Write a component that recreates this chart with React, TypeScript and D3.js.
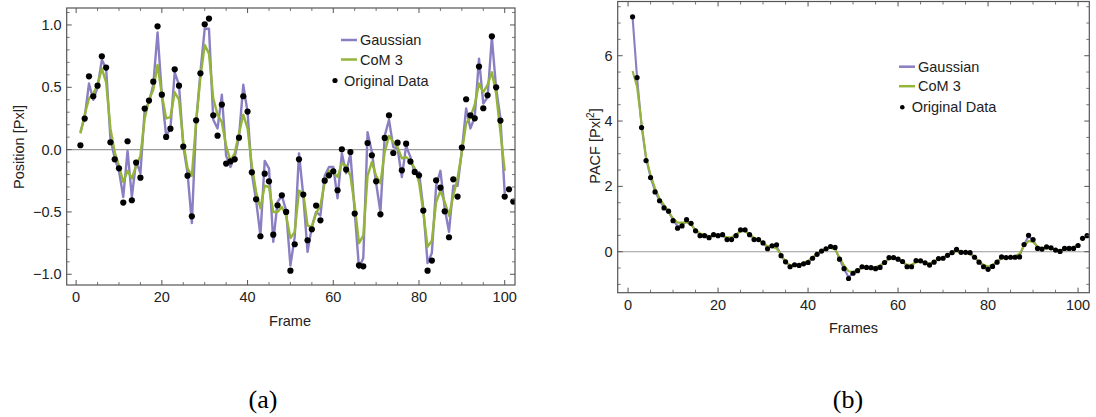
import React from "react";
import * as d3 from "d3";

const framesPts = d3.range(1, 103);
const framesLine = d3.range(1, 101);

const posData = [0.035,0.249,0.588,0.428,0.513,0.749,0.658,0.059,-0.078,-0.150,-0.425,0.067,-0.406,-0.104,-0.225,0.329,0.393,0.545,0.989,0.441,0.102,0.168,0.644,0.513,0.024,-0.209,-0.535,0.235,0.612,1.005,1.051,0.275,0.112,0.361,-0.112,-0.094,-0.078,0.096,0.428,0.305,-0.182,-0.398,-0.695,-0.193,-0.254,-0.682,-0.447,-0.366,-0.5,-0.971,-0.759,-0.078,-0.361,-0.727,-0.639,-0.449,-0.567,-0.249,-0.206,-0.174,-0.326,0.003,-0.160,-0.019,-0.513,-0.928,-0.936,0.053,-0.045,-0.254,-0.519,0.094,0.275,-0.027,0.056,-0.166,0.048,-0.096,-0.179,-0.206,-0.489,-0.971,-0.890,-0.246,-0.305,-0.495,-0.703,-0.238,-0.377,0.016,0.404,0.275,0.251,0.666,0.332,0.436,0.909,0.5,0.233,-0.377,-0.318,-0.417];

const posGauss = [0.14,0.26,0.53,0.40,0.50,0.72,0.65,0.09,-0.07,-0.17,-0.38,-0.01,-0.38,-0.09,-0.19,0.32,0.38,0.52,0.94,0.44,0.11,0.17,0.62,0.52,0.03,-0.19,-0.59,0.22,0.62,0.97,0.97,0.24,0.17,0.44,-0.05,-0.14,-0.06,0.10,0.52,0.30,-0.19,-0.41,-0.69,-0.09,-0.15,-0.74,-0.42,-0.37,-0.49,-0.93,-0.70,-0.03,-0.37,-0.82,-0.62,-0.50,-0.53,-0.21,-0.14,-0.14,-0.39,-0.03,-0.19,-0.03,-0.50,-0.95,-0.87,0.14,-0.02,-0.27,-0.50,0.11,0.24,0.02,0.01,-0.22,0.03,-0.06,-0.19,-0.18,-0.47,-0.91,-0.83,-0.29,-0.17,-0.47,-0.66,-0.29,-0.29,-0.01,0.33,0.17,0.26,0.73,0.37,0.42,0.90,0.49,0.25,-0.35];

const posCoM = [0.13,0.28,0.41,0.45,0.52,0.65,0.54,0.17,-0.02,-0.13,-0.26,-0.17,-0.23,-0.13,-0.05,0.25,0.40,0.48,0.68,0.44,0.25,0.26,0.46,0.40,0.06,-0.15,-0.21,0.22,0.58,0.84,0.77,0.41,0.28,0.22,0.03,-0.09,-0.03,0.13,0.28,0.17,-0.13,-0.34,-0.47,-0.29,-0.30,-0.50,-0.50,-0.46,-0.53,-0.71,-0.66,-0.33,-0.35,-0.61,-0.62,-0.51,-0.45,-0.26,-0.17,-0.18,-0.22,-0.11,-0.13,-0.21,-0.45,-0.75,-0.69,-0.21,-0.10,-0.21,-0.27,-0.02,0.11,0.06,0.02,-0.07,-0.06,-0.09,-0.15,-0.26,-0.50,-0.78,-0.73,-0.42,-0.33,-0.42,-0.53,-0.37,-0.23,-0.02,0.21,0.26,0.36,0.53,0.46,0.52,0.62,0.45,0.14,-0.17];

const pacfData = [7.19,5.33,3.80,2.79,2.27,1.83,1.56,1.34,1.24,0.95,0.72,0.79,0.98,0.87,0.64,0.49,0.49,0.43,0.52,0.49,0.52,0.37,0.37,0.49,0.67,0.67,0.52,0.37,0.37,0.27,0.09,0.18,0.21,-0.12,-0.31,-0.46,-0.40,-0.42,-0.37,-0.33,-0.20,-0.08,0.02,0.09,0.16,0.13,-0.23,-0.52,-0.82,-0.66,-0.58,-0.46,-0.48,-0.49,-0.52,-0.48,-0.33,-0.18,-0.18,-0.23,-0.30,-0.46,-0.46,-0.27,-0.28,-0.34,-0.41,-0.32,-0.21,-0.20,-0.11,-0.03,0.07,-0.02,-0.02,-0.03,-0.17,-0.32,-0.46,-0.54,-0.45,-0.32,-0.16,-0.18,-0.17,-0.17,-0.16,0.22,0.50,0.37,0.10,0.08,0.15,0.12,0.05,0.01,0.10,0.10,0.10,0.19,0.41,0.49];

const pacfGauss = [7.19,5.33,3.85,2.85,2.28,1.85,1.56,1.36,1.22,0.97,0.78,0.82,0.93,0.85,0.65,0.52,0.49,0.46,0.50,0.49,0.50,0.40,0.39,0.50,0.65,0.65,0.52,0.40,0.36,0.27,0.12,0.17,0.18,-0.11,-0.32,-0.44,-0.40,-0.41,-0.36,-0.32,-0.20,-0.08,0.02,0.09,0.15,0.12,-0.24,-0.52,-0.78,-0.65,-0.57,-0.47,-0.48,-0.49,-0.50,-0.46,-0.33,-0.20,-0.19,-0.23,-0.31,-0.44,-0.44,-0.29,-0.28,-0.34,-0.39,-0.31,-0.22,-0.19,-0.11,-0.03,0.05,-0.01,-0.02,-0.04,-0.17,-0.32,-0.45,-0.52,-0.44,-0.31,-0.18,-0.18,-0.17,-0.17,-0.14,0.22,0.47,0.36,0.12,0.09,0.13,0.11,0.05,0.02,0.09,0.10,0.11,0.20];

const pacfCoM = [5.53,5.05,3.93,2.90,2.35,1.94,1.63,1.43,1.22,1.02,0.89,0.89,0.90,0.82,0.66,0.56,0.51,0.48,0.49,0.49,0.48,0.44,0.44,0.53,0.63,0.63,0.53,0.43,0.36,0.26,0.17,0.15,0.10,-0.10,-0.31,-0.41,-0.43,-0.41,-0.34,-0.28,-0.17,-0.07,0.03,0.09,0.12,0.07,-0.18,-0.42,-0.60,-0.62,-0.55,-0.50,-0.48,-0.48,-0.47,-0.42,-0.32,-0.23,-0.20,-0.24,-0.32,-0.40,-0.40,-0.32,-0.29,-0.33,-0.36,-0.31,-0.23,-0.18,-0.11,-0.04,0.01,-0.01,-0.04,-0.08,-0.17,-0.30,-0.40,-0.45,-0.40,-0.30,-0.21,-0.18,-0.17,-0.14,-0.06,0.18,0.33,0.30,0.16,0.10,0.11,0.10,0.06,0.04,0.07,0.10,0.14,0.22];

const xTickVals = [0, 20, 40, 60, 80, 100];
const posTickVals = [-1.0, -0.5, 0.0, 0.5, 1.0];
const pacfTickVals = [0, 2, 4, 6];

const GAUSS = "#8a7fc2";
const COM = "#93b53a";
const FONT = "'Liberation Sans', Arial, Helvetica, sans-serif";
const FRAME = "#555";

type PanelProps = {
  x0: number; x1: number; y0: number; y1: number;
  xDomain: [number, number]; yDomain: [number, number];
  pts: number[]; gauss: number[]; com: number[];
  yTicks: number[]; yMinorStep: number; yFmt: (v: number) => string;
  lineW: number; dotR: number;
};

function Panel(p: PanelProps) {
  const x = d3.scaleLinear().domain(p.xDomain).range([p.x0, p.x1]);
  const y = d3.scaleLinear().domain(p.yDomain).range([p.y1, p.y0]);
  const line = d3.line<number>().x((_, i) => x(framesLine[i])).y((d) => y(d));
  const xMinor = d3.range(0, 101, 5).filter((v) => v % 20 !== 0);
  const yMinorAll = d3.range(Math.ceil(p.yDomain[0] / p.yMinorStep), Math.floor(p.yDomain[1] / p.yMinorStep) + 1).map((k) => +(k * p.yMinorStep).toFixed(4));
  const yMinor = yMinorAll.filter((v) => !p.yTicks.some((t) => Math.abs(t - v) < 1e-6));
  const clipId = `clip${Math.round(p.x0)}`;
  const MJ = 5, MN = 3;
  return (
    <g>
      <defs>
        <clipPath id={clipId}>
          <rect x={p.x0} y={p.y0} width={p.x1 - p.x0} height={p.y1 - p.y0} />
        </clipPath>
      </defs>
      <line x1={p.x0} x2={p.x1} y1={y(0)} y2={y(0)} stroke="#9a9a9a" strokeWidth={1.1} />
      <g clipPath={`url(#${clipId})`}>
        <path d={line(p.gauss) || ""} fill="none" stroke={GAUSS} strokeWidth={p.lineW} strokeLinejoin="round" />
        <path d={line(p.com) || ""} fill="none" stroke={COM} strokeWidth={p.lineW} strokeLinejoin="round" />
        {p.pts.map((v, i) => (
          <circle key={i} cx={x(framesPts[i])} cy={y(v)} r={p.dotR} fill="#000" />
        ))}
      </g>
      {xTickVals.map((t) => (
        <g key={"xt" + t}>
          <line x1={x(t)} x2={x(t)} y1={p.y1} y2={p.y1 - MJ} stroke={FRAME} />
          <line x1={x(t)} x2={x(t)} y1={p.y0} y2={p.y0 + MJ} stroke={FRAME} />
        </g>
      ))}
      {xMinor.map((t) => (
        <g key={"xm" + t}>
          <line x1={x(t)} x2={x(t)} y1={p.y1} y2={p.y1 - MN} stroke={FRAME} strokeWidth={0.8} />
          <line x1={x(t)} x2={x(t)} y1={p.y0} y2={p.y0 + MN} stroke={FRAME} strokeWidth={0.8} />
        </g>
      ))}
      {p.yTicks.map((t) => (
        <g key={"yt" + t}>
          <line x1={p.x0} x2={p.x0 + MJ} y1={y(t)} y2={y(t)} stroke={FRAME} />
          <line x1={p.x1} x2={p.x1 - MJ} y1={y(t)} y2={y(t)} stroke={FRAME} />
        </g>
      ))}
      {yMinor.map((t) => (
        <g key={"ym" + t}>
          <line x1={p.x0} x2={p.x0 + MN} y1={y(t)} y2={y(t)} stroke={FRAME} strokeWidth={0.8} />
          <line x1={p.x1} x2={p.x1 - MN} y1={y(t)} y2={y(t)} stroke={FRAME} strokeWidth={0.8} />
        </g>
      ))}
      <rect x={p.x0} y={p.y0} width={p.x1 - p.x0} height={p.y1 - p.y0} fill="none" stroke={FRAME} strokeWidth={1.2} />
      {xTickVals.map((t) => (
        <text key={"xl" + t} x={x(t)} y={p.y1 + 17} textAnchor="middle" fontSize={14.5} fontFamily={FONT} fill="#222">{t}</text>
      ))}
      {p.yTicks.map((t) => (
        <text key={"yl" + t} x={p.x0 - 5} y={y(t) + 5} textAnchor="end" fontSize={14.5} fontFamily={FONT} fill="#222">{p.yFmt(t)}</text>
      ))}
    </g>
  );
}

function Legend({ lx, ly, dotX, dotTextX, r }: { lx: number; ly: number; dotX: number; dotTextX: number; r: number }) {
  return (
    <g fontFamily={FONT} fontSize={14.5} fill="#222">
      <line x1={lx} x2={lx + 16} y1={ly} y2={ly} stroke={GAUSS} strokeWidth={2.5} />
      <text x={lx + 19} y={ly + 5}>Gaussian</text>
      <line x1={lx} x2={lx + 16} y1={ly + 19.5} y2={ly + 19.5} stroke={COM} strokeWidth={2.5} />
      <text x={lx + 19} y={ly + 24.5}>CoM 3</text>
      <circle cx={dotX} cy={ly + 40.5} r={r} fill="#000" />
      <text x={dotTextX} y={ly + 45.5}>Original Data</text>
    </g>
  );
}

export default function App() {
  const fmt1 = (v: number) => (v < 0 ? "\u2212" : "") + Math.abs(v).toFixed(1);
  return (
    <svg width={1096} height={417} style={{ position: "absolute", left: 0, top: 0, background: "#fff" }}>
      <Panel x0={66.7} x1={515} y0={8} y1={285} xDomain={[-2.2, 102.4]} yDomain={[-1.086, 1.136]}
        pts={posData} gauss={posGauss} com={posCoM} yTicks={posTickVals} yMinorStep={0.1} yFmt={fmt1} lineW={2.4} dotR={3.1} />
      <Panel x0={617.7} x1={1089.3} y0={1.5} y1={292.7} xDomain={[-2.3, 102.5]} yDomain={[-1.255, 7.66]}
        pts={pacfData} gauss={pacfGauss} com={pacfCoM} yTicks={pacfTickVals} yMinorStep={0.5} yFmt={(v) => String(v)} lineW={2.1} dotR={2.6} />
      <Legend lx={341} ly={40} dotX={335} dotTextX={344} r={2.6} />
      <Legend lx={899} ly={66.7} dotX={902.3} dotTextX={911.7} r={2.3} />
      <text x={290} y={326} textAnchor="middle" fontSize={14.5} fontFamily={FONT} fill="#222">Frame</text>
      <text x={853.5} y={333} textAnchor="middle" fontSize={14.5} fontFamily={FONT} fill="#222">Frames</text>
      <text transform="translate(24,147) rotate(-90)" textAnchor="middle" fontSize={14.5} fontFamily={FONT} fill="#222">Position [Pxl]</text>
      <text transform="translate(600,146) rotate(-90)" textAnchor="middle" fontSize={14.5} fontFamily={FONT} fill="#222">
        PACF [Pxl<tspan dy={-6} fontSize={10}>2</tspan><tspan dy={6}>]</tspan>
      </text>
      <text x={263} y={408} textAnchor="middle" fontSize={26} fontFamily="'Liberation Serif', 'DejaVu Serif', serif" fill="#000">(a)</text>
      <text x={848} y={408} textAnchor="middle" fontSize={26} fontFamily="'Liberation Serif', 'DejaVu Serif', serif" fill="#000">(b)</text>
    </svg>
  );
}
